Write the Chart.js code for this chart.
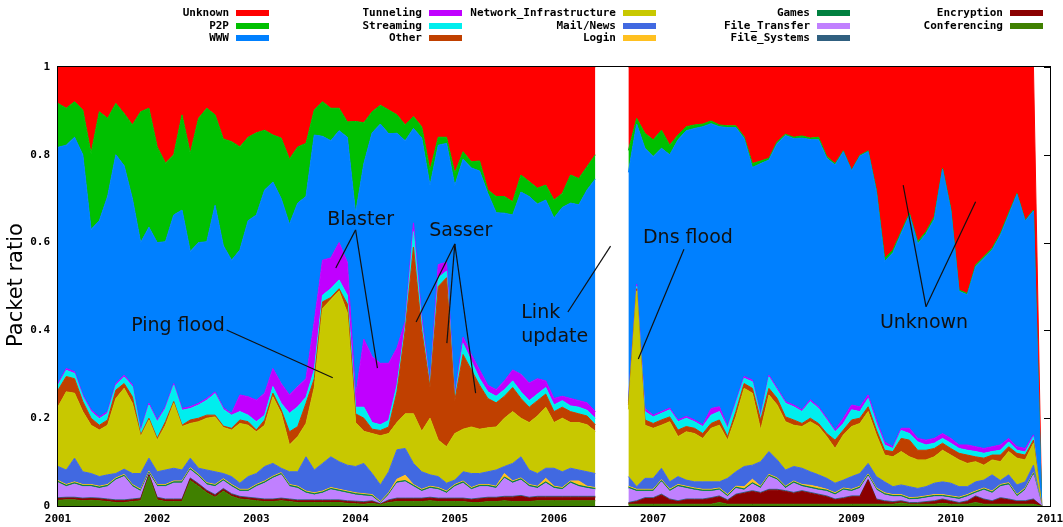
<!DOCTYPE html>
<html>
<head>
<meta charset="utf-8">
<script src="https://cdn.jsdelivr.net/npm/chart.js@4/dist/chart.umd.min.js"></script>
<style>
html, body { margin: 0; padding: 0; background: #fff; }
#wrap { position: relative; width: 1063px; height: 527px; overflow: hidden; }
#c { position: absolute; left: 0; top: 0; }
.key { position: absolute; font: bold 11px "DejaVu Sans Mono", monospace; color: #000; white-space: nowrap; line-height: 12px; text-align: right; }
.sw { position: absolute; width: 33px; height: 6px; }
</style>
</head>
<body>
<div id="wrap">
  <canvas id="c" width="1063" height="527"></canvas>
  <div id="legend"></div>
</div>
<script>
// Monthly packet-ratio samples, Jan 2001 .. Dec 2010 (null = no capture).
const startYear = 2001;
const sampleCount = 120;
const yearTicks = [2001, 2002, 2003, 2004, 2005, 2006, 2007, 2008, 2009, 2010, 2011];
const ratioTicks = [0, 0.2, 0.4, 0.6, 0.8, 1];
const gap = [null, null, null];

const conferencing = [
  .013,.014,.014,.012,.013,.012,.010,.008,.008,.010,
  .012,.068,.014,.010,.010,.010,.058,.045,.030,.020,
  .034,.022,.016,.014,.012,.010,.010,.012,.010,.008,
  .008,.008,.008,.008,.008,.006,.005,.004,.006,.003,
  .008,.010,.010,.010,.010,.012,.010,.010,.010,.010,
  .008,.008,.010,.010,.012,.010,.010,.010,.012,.012,
  .012,.012,.012,.012,.012,.012,
  ...gap,
  .004,.004,.004,.004,.004,.004,.004,.004,.004,.004,
  .004,.008,.004,.004,.004,.004,.004,.004,.004,.004,
  .004,.004,.004,.004,.004,.004,.004,.004,.004,.004,
  .004,.004,.004,.007,.004,.004,.004,.004,.006,.004,
  .004,.004,.008,.004,.004,.004,.004,.004,.004,.004,
  0];
const encryption = [
  .004,.004,.004,.004,.004,.004,.004,.004,.004,.004,
  .004,.003,.004,.004,.004,.004,.004,.004,.004,.004,
  .004,.004,.004,.004,.004,.004,.004,.004,.004,.004,
  .004,.004,.004,.004,.004,.004,.004,.004,.004,.001,
  .004,.006,.006,.006,.006,.006,.006,.006,.006,.006,
  .006,.008,.008,.008,.008,.010,.012,.008,.008,.008,
  .008,.008,.008,.008,.008,.008,
  ...gap,
  .002,.006,.013,.013,.021,.010,.006,.010,.010,.010,
  .013,.013,.008,.021,.025,.029,.025,.032,.032,.029,
  .025,.029,.025,.021,.017,.010,.013,.017,.017,.055,
  .010,.006,.004,.003,.002,.002,.004,.006,.008,.006,
  .002,.006,.013,.010,.006,.013,.010,.006,.006,.010,
  0];
const fileSystems = [
  .002,.002,.002,.002,.002,.002,.002,.002,.002,.002,
  .002,.001,.002,.002,.002,.002,.002,.002,.002,.002,
  .002,.002,.002,.002,.002,.002,.002,.002,.002,.002,
  .002,.002,.002,.002,.002,.002,.002,.002,.002,.001,
  .002,.002,.002,.002,.002,.002,.002,.002,.002,.002,
  .002,.002,.002,.002,.002,.002,.002,.002,.002,.002,
  .002,.002,.002,.002,.002,.002,
  ...gap,
  .002,.002,.002,.002,.002,.002,.002,.002,.002,.002,
  .002,.002,.002,.002,.002,.002,.002,.002,.002,.002,
  .002,.002,.002,.002,.002,.002,.002,.002,.002,.002,
  .002,.002,.002,.002,.002,.002,.002,.002,.002,.002,
  .002,.002,.002,.002,.002,.002,.002,.002,.002,.002,
  0];
const fileTransfer = [
  .034,.024,.030,.026,.025,.022,.028,.045,.053,.028,
  .015,.002,.024,.028,.036,.036,.018,.016,.012,.018,
  .017,.016,.011,.013,.026,.036,.047,.053,.028,.026,
  .015,.011,.015,.023,.019,.017,.014,.013,.009,.001,
  .011,.034,.037,.026,.015,.020,.019,.011,.026,.034,
  .021,.026,.024,.020,.041,.030,.035,.024,.018,.030,
  .018,.015,.030,.022,.018,.015,
  ...gap,
  .032,.021,.014,.014,.028,.017,.032,.024,.020,.017,
  .014,.013,.007,.013,.005,.015,.009,.029,.021,.005,
  .021,.009,.009,.009,.010,.009,.017,.010,.017,.007,
  .020,.013,.011,.009,.006,.007,.008,.009,.005,.006,
  .007,.009,.006,.020,.017,.025,.032,.009,.024,.055,
  0];
const games = [
  .003,.003,.003,.003,.003,.003,.003,.003,.003,.003,
  .003,.003,.003,.003,.003,.003,.003,.003,.003,.003,
  .003,.003,.003,.003,.003,.003,.003,.003,.003,.003,
  .003,.003,.003,.003,.003,.003,.003,.003,.003,.002,
  .003,.003,.003,.003,.003,.003,.003,.003,.003,.003,
  .003,.003,.003,.003,.003,.003,.003,.003,.003,.003,
  .003,.003,.003,.003,.003,.003,
  ...gap,
  .003,.003,.003,.003,.003,.003,.003,.003,.003,.003,
  .003,.003,.003,.003,.003,.003,.003,.003,.003,.003,
  .003,.003,.003,.003,.003,.003,.003,.003,.003,.003,
  .003,.003,.003,.003,.003,.003,.003,.003,.003,.003,
  .003,.003,.003,.003,.003,.003,.003,.003,.003,.003,
  0];
const login = [
  .002,.002,.002,.002,.002,.002,.002,.002,.002,.002,
  .002,.002,.002,.002,.002,.002,.002,.002,.002,.002,
  .002,.002,.002,.002,.002,.002,.002,.002,.002,.002,
  .002,.002,.002,.002,.002,.002,.002,.002,.002,.002,
  .002,.006,.012,.002,.002,.002,.002,.002,.002,.002,
  .002,.002,.002,.002,.008,.002,.002,.002,.002,.008,
  .002,.002,.002,.010,.002,.002,
  ...gap,
  .002,.002,.002,.002,.002,.002,.002,.002,.002,.002,
  .002,.002,.002,.002,.005,.008,.002,.002,.002,.002,
  .002,.002,.004,.004,.002,.002,.002,.002,.002,.002,
  .002,.002,.002,.002,.002,.002,.002,.002,.002,.002,
  .002,.002,.002,.002,.002,.002,.002,.002,.002,.002,
  0];
const mailNews = [
  .032,.033,.054,.029,.025,.022,.022,.010,.012,.025,
  .036,.030,.029,.033,.029,.025,.022,.014,.029,.029,
  .012,.018,.014,.029,.025,.033,.029,.010,.029,.033,
  .078,.052,.063,.070,.063,.059,.060,.069,.048,.038,
  .048,.067,.061,.048,.040,.026,.025,.018,.010,.021,
  .032,.025,.029,.037,.016,.040,.048,.033,.029,.023,
  .041,.036,.029,.025,.033,.032,
  ...gap,
  .022,.006,.025,.025,.026,.017,.018,.014,.014,.017,
  .017,.014,.037,.033,.046,.032,.056,.052,.041,.037,
  .033,.037,.031,.028,.025,.022,.018,.029,.029,.024,
  .026,.025,.018,.022,.025,.020,.021,.026,.029,.029,
  .024,.018,.021,.018,.037,.009,.018,.022,.014,.017,
  0];
const networkInfrastructure = [
  .136,.178,.148,.137,.110,.106,.113,.171,.184,.160,
  .084,.087,.072,.102,.148,.099,.079,.106,.118,.125,
  .105,.106,.136,.117,.095,.094,.152,.125,.061,.080,
  .076,.188,.353,.358,.389,.347,.100,.073,.091,.112,
  .087,.062,.079,.113,.092,.129,.083,.083,.106,.097,
  .106,.101,.100,.098,.110,.118,.088,.108,.131,.139,
  .104,.122,.104,.108,.107,.096,
  ...gap,
  .153,.446,.121,.114,.098,.137,.091,.110,.110,.099,
  .122,.129,.087,.125,.178,.164,.072,.129,.125,.110,
  .094,.095,.114,.110,.095,.079,.103,.114,.114,.118,
  .095,.061,.068,.076,.068,.065,.061,.060,.072,.064,
  .061,.053,.046,.034,.034,.043,.053,.061,.050,.050,
  0];
const other = [
  .038,.035,.033,.023,.016,.011,.012,.019,.011,.015,
  .004,.004,.004,.008,.004,.003,.008,.008,.007,.004,
  .003,.004,.008,.008,.004,.012,.008,.008,.030,.023,
  .046,.020,.015,.005,.005,.020,.020,.030,.010,.012,
  .015,.070,.190,.380,.230,.070,.350,.385,.075,.170,
  .130,.100,.067,.055,.050,.055,.045,.035,.035,.030,
  .025,.025,.025,.020,.020,.015,
  ...gap,
  .010,.005,.012,.011,.012,.011,.015,.012,.012,.011,
  .011,.012,.008,.012,.011,.011,.023,.015,.015,.011,
  .012,.007,.008,.007,.007,.019,.011,.015,.012,.011,
  .011,.011,.012,.030,.038,.022,.022,.019,.016,.015,
  .015,.019,.011,.016,.011,.015,.011,.011,.011,.007,
  0];
const streaming = [
  .011,.014,.012,.011,.015,.015,.015,.011,.015,.023,
  .007,.030,.038,.030,.037,.034,.026,.030,.034,.049,
  .038,.030,.019,.015,.019,.011,.015,.015,.042,.045,
  .014,.020,.015,.020,.020,.020,.015,.025,.015,.013,
  .015,.015,.010,.035,.015,.005,.020,.015,.005,.025,
  .020,.015,.015,.015,.015,.015,.015,.015,.015,.015,
  .015,.015,.013,.015,.013,.015,
  ...gap,
  .005,.005,.019,.015,.015,.016,.019,.019,.015,.016,
  .019,.019,.019,.019,.012,.015,.007,.026,.019,.031,
  .030,.027,.038,.034,.031,.019,.015,.023,.015,.019,
  .015,.012,.007,.018,.015,.019,.012,.012,.011,.012,
  .011,.011,.012,.011,.008,.011,.011,.007,.007,.008,
  0];
const tunneling = [
  .004,.004,.004,.004,.004,.004,.004,.004,.004,.004,
  .004,.004,.004,.004,.004,.004,.004,.004,.004,.004,
  .004,.004,.038,.042,.049,.050,.041,.045,.042,.046,
  .042,.110,.080,.070,.085,.075,.025,.155,.150,.140,
  .130,.085,.010,.020,.015,.005,.030,.020,.005,.015,
  .015,.020,.015,.015,.020,.025,.040,.040,.035,.015,
  .015,.010,.017,.015,.017,.015,
  ...gap,
  .005,.005,.007,.004,.004,.004,.004,.004,.004,.004,
  .015,.011,.004,.004,.004,.004,.004,.004,.004,.004,
  .004,.004,.004,.004,.004,.004,.012,.011,.011,.008,
  .008,.007,.004,.005,.012,.008,.011,.011,.011,.011,
  .008,.012,.011,.011,.011,.012,.008,.008,.008,.004,
  0];
const www = [
  .538,.509,.534,.547,.411,.447,.490,.521,.477,.424,
  .427,.401,.404,.376,.384,.452,.354,.366,.357,.425,
  .369,.349,.330,.401,.422,.463,.425,.421,.389,.418,
  .415,.425,.282,.267,.255,.285,.417,.400,.510,.545,
  .523,.489,.412,.215,.408,.450,.272,.271,.480,.405,
  .425,.453,.437,.403,.382,.353,.415,.425,.398,.412,
  .411,.430,.445,.446,.485,.530,
  ...gap,
  .520,.365,.593,.589,.600,.577,.638,.651,.664,.679,
  .649,.638,.681,.624,.542,.484,.573,.490,.558,.606,
  .607,.619,.593,.608,.592,.604,.607,.534,.571,.554,
  .520,.411,.442,.444,.486,.443,.470,.499,.602,.520,
  .350,.342,.410,.433,.448,.478,.509,.575,.518,.510,
  0];
const p2p = [
  .100,.084,.081,.102,.173,.248,.178,.117,.119,.168,
  .298,.271,.218,.179,.137,.217,.223,.283,.304,.206,
  .243,.270,.235,.190,.187,.136,.107,.138,.148,.128,
  .121,.057,.079,.074,.051,.035,.209,.093,.048,.043,
  .054,.042,.036,.027,.026,.035,.018,.014,.028,.017,
  .014,.023,.008,.037,.038,.030,.039,.034,.036,.034,
  .041,.032,.064,.060,.053,.055,
  ...gap,
  .050,.013,.034,.038,.041,.022,.011,.009,.008,.006,
  .006,.004,.004,.004,.004,.009,.006,.004,.004,.003,
  .003,.005,.003,.006,.004,.003,.002,.001,.002,.002,
  .004,.007,.006,.004,.004,.005,.005,.006,.002,.004,
  .003,.003,.004,.004,.004,.004,.004,.002,.002,.002,
  0];
const unknown = [
  .083,.094,.079,.098,.197,.102,.117,.083,.106,.132,
  .102,.094,.182,.219,.200,.109,.197,.117,.094,.109,
  .164,.170,.182,.160,.150,.144,.155,.162,.210,.182,
  .174,.098,.079,.094,.094,.125,.124,.127,.102,.087,
  .098,.109,.132,.113,.136,.235,.160,.160,.242,.193,
  .216,.214,.280,.295,.295,.307,.246,.261,.276,.269,
  .303,.288,.246,.254,.227,.200,
  ...gap,
  .190,.117,.151,.166,.144,.178,.155,.136,.132,.130,
  .123,.132,.134,.134,.159,.220,.214,.208,.170,.153,
  .160,.157,.162,.160,.204,.220,.191,.235,.201,.191,
  .280,.436,.417,.375,.333,.398,.375,.341,.231,.322,
  .508,.516,.451,.432,.413,.379,.333,.288,.349,.326,
  0];

// Stack order, bottom to top.
const series = [
  { name: 'Conferencing',           color: '#408000', values: conferencing },
  { name: 'Encryption',             color: '#8b0000', values: encryption },
  { name: 'File_Systems',           color: '#306080', values: fileSystems },
  { name: 'File_Transfer',          color: '#c080ff', values: fileTransfer },
  { name: 'Games',                  color: '#008040', values: games },
  { name: 'Login',                  color: '#ffc020', values: login },
  { name: 'Mail/News',              color: '#4169e1', values: mailNews },
  { name: 'Network_Infrastructure', color: '#c8c800', values: networkInfrastructure },
  { name: 'Other',                  color: '#c04000', values: other },
  { name: 'Streaming',              color: '#00eeee', values: streaming },
  { name: 'Tunneling',              color: '#c000ff', values: tunneling },
  { name: 'WWW',                    color: '#0080ff', values: www },
  { name: 'P2P',                    color: '#00c000', values: p2p },
  { name: 'Unknown',                color: '#ff0000', values: unknown }
];

// Key order (columns of three, top-most layer first).
const keyOrder = ['Unknown', 'P2P', 'WWW', 'Tunneling', 'Streaming', 'Other',
  'Network_Infrastructure', 'Mail/News', 'Login', 'Games', 'File_Transfer',
  'File_Systems', 'Encryption', 'Conferencing'];

// Event callouts: label anchor and pointer segments in data space.
const notes = [
  { lines: ['Ping flood'], at: [2002.21, 0.410], align: 'center',
    ptr: [[[2002.70, 0.401], [2003.77, 0.292]]] },
  { lines: ['Blaster'], at: [2004.05, 0.651], align: 'center',
    ptr: [[[2004.00, 0.629], [2003.80, 0.542]], [[2004.00, 0.629], [2004.22, 0.314]]] },
  { lines: ['Sasser'], at: [2005.06, 0.626], align: 'center',
    ptr: [[[2005.00, 0.597], [2004.61, 0.419]], [[2005.00, 0.597], [2004.92, 0.371]], [[2005.00, 0.597], [2005.21, 0.257]]] },
  { lines: ['Link', 'update'], at: [2005.67, 0.440], align: 'left',
    ptr: [[[2006.14, 0.442], [2006.57, 0.592]]] },
  { lines: ['Dns flood'], at: [2007.35, 0.610], align: 'center',
    ptr: [[[2007.31, 0.585], [2006.85, 0.335]]] },
  { lines: ['Unknown'], at: [2009.73, 0.417], align: 'center',
    ptr: [[[2009.75, 0.454], [2009.52, 0.731]], [[2009.75, 0.454], [2010.25, 0.693]]] }
];

const monthX = Array.from({ length: sampleCount }, (_, i) => startYear + i / 12);

// ---- key (legend) ----
const keyCols = [229, 422, 616, 810, 1003];
const keyRows = [13, 26, 38];
const legendEl = document.getElementById('legend');
keyOrder.forEach((name, k) => {
  const s = series.find(d => d.name === name);
  const right = keyCols[Math.floor(k / 3)];
  const cy = keyRows[k % 3];
  const t = document.createElement('div');
  t.className = 'key';
  t.textContent = name;
  t.style.right = (1063 - right) + 'px';
  t.style.top = (cy - 6) + 'px';
  legendEl.appendChild(t);
  const sw = document.createElement('div');
  sw.className = 'sw';
  sw.style.left = (right + 7) + 'px';
  sw.style.top = (cy - 3) + 'px';
  sw.style.background = s.color;
  legendEl.appendChild(sw);
});

// ---- frame, inward tics, callouts, axis title ----
const decor = {
  id: 'decor',
  beforeDatasetsDraw(chart) {
    const { ctx, chartArea: a, scales: { x, y } } = chart;
    ctx.save();
    ctx.strokeStyle = '#000';
    ctx.lineWidth = 1;
    ctx.beginPath();
    ratioTicks.forEach(v => {
      const py = Math.round(y.getPixelForValue(v)) + 0.5;
      ctx.moveTo(a.left, py); ctx.lineTo(a.left + 6, py);
      ctx.moveTo(a.right, py); ctx.lineTo(a.right - 6, py);
    });
    yearTicks.forEach(v => {
      const px = Math.round(x.getPixelForValue(v)) + 0.5;
      ctx.moveTo(px, a.bottom); ctx.lineTo(px, a.bottom - 6);
      ctx.moveTo(px, a.top); ctx.lineTo(px, a.top + 6);
    });
    ctx.stroke();
    ctx.restore();
  },
  afterDatasetsDraw(chart) {
    const { ctx, chartArea: a, scales: { x, y } } = chart;
    ctx.save();
    ctx.strokeStyle = '#000';
    ctx.lineWidth = 1;
    ctx.strokeRect(a.left - 0.5, a.top - 0.5, a.right - a.left + 1, a.bottom - a.top + 1);

    ctx.strokeStyle = '#111';
    ctx.lineWidth = 1.2;
    ctx.fillStyle = '#111';
    ctx.font = '19px "DejaVu Sans", sans-serif';
    ctx.textBaseline = 'middle';
    notes.forEach(n => {
      n.ptr.forEach(seg => {
        ctx.beginPath();
        ctx.moveTo(x.getPixelForValue(seg[0][0]), y.getPixelForValue(seg[0][1]));
        ctx.lineTo(x.getPixelForValue(seg[1][0]), y.getPixelForValue(seg[1][1]));
        ctx.stroke();
      });
      ctx.textAlign = n.align;
      const px = x.getPixelForValue(n.at[0]);
      const py = y.getPixelForValue(n.at[1]);
      n.lines.forEach((line, j) => ctx.fillText(line, px, py + j * 24));
    });

    ctx.translate(17, 285);
    ctx.rotate(-Math.PI / 2);
    ctx.textAlign = 'center';
    ctx.fillStyle = '#000';
    ctx.font = '21px "DejaVu Sans", sans-serif';
    ctx.fillText('Packet ratio', 0, 0);
    ctx.restore();
  }
};

const tickFont = { family: '"DejaVu Sans Mono", monospace', weight: 'bold', size: 11 };

new Chart(document.getElementById('c'), {
  type: 'line',
  data: {
    datasets: series.map((s, i) => ({
      label: s.name,
      data: s.values.map((v, j) => ({ x: monthX[j], y: v })),
      backgroundColor: s.color,
      borderColor: s.color,
      borderWidth: 1,
      pointRadius: 0,
      tension: 0,
      spanGaps: false,
      fill: i === 0 ? 'origin' : '-1'
    }))
  },
  options: {
    responsive: false,
    animation: false,
    devicePixelRatio: 1,
    layout: { padding: { left: 0, right: 13, top: 67, bottom: 0 } },
    plugins: { legend: { display: false }, tooltip: { enabled: false } },
    scales: {
      x: {
        type: 'linear', min: 2001, max: 2011,
        grid: { display: false, drawTicks: false, tickLength: 0 }, border: { display: false },
        afterBuildTicks: s => { s.ticks = yearTicks.map(v => ({ value: v })); },
        afterFit: s => { s.height = 21; s.paddingLeft = 0; s.paddingRight = 0; },
        ticks: { font: tickFont, color: '#000', padding: 7, maxRotation: 0, autoSkip: false,
                 callback: v => String(v) }
      },
      y: {
        stacked: true, min: 0, max: 1,
        grid: { display: false, drawTicks: false, tickLength: 0 }, border: { display: false },
        afterBuildTicks: s => { s.ticks = ratioTicks.map(v => ({ value: v })); },
        afterFit: s => { s.width = 58; s.paddingTop = 0; s.paddingBottom = 0; },
        ticks: { font: tickFont, color: '#000', padding: 8,
                 callback: v => (v === 0 || v === 1) ? String(v) : v.toFixed(1) }
      }
    }
  },
  plugins: [decor]
});
</script>
</body>
</html>
